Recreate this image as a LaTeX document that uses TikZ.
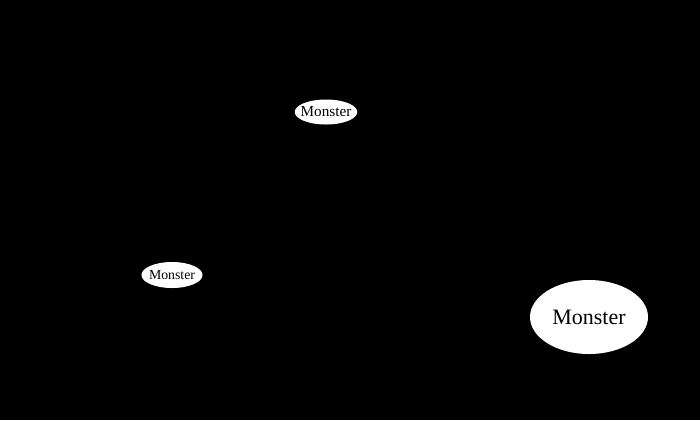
\documentclass[tikz,border=0pt]{standalone}
\usepackage{fontspec}
\setmainfont{Liberation Serif}
\usetikzlibrary{shapes.geometric,calc,positioning}

\begin{document}
\begin{tikzpicture}[x=0.5pt,y=-0.5pt,line join=round,line cap=round,
  monster/.style={ellipse,fill=white,inner sep=0pt,text=black}]
\fill[black] (0,0) rectangle (700,420);
\useasboundingbox (0,0) rectangle (700,420);
\coordinate (P) at (326,112);
\coordinate (Q) at (172,275);
\coordinate (R) at (589,317);
\node[monster,inner xsep=-1.6pt,minimum height=12.5pt,font=\fontsize{7.6}{8}\selectfont] (mP) at (P) {Monster};
\node[monster,inner xsep=-0.7pt,minimum height=13pt,font=\fontsize{6.9}{8}\selectfont] (mQ) at (Q) {Monster};
\node[monster,minimum width=59pt,minimum height=37pt,font=\fontsize{11}{13}\selectfont] (mR) at (R) {Monster};
\end{tikzpicture}
\end{document}
